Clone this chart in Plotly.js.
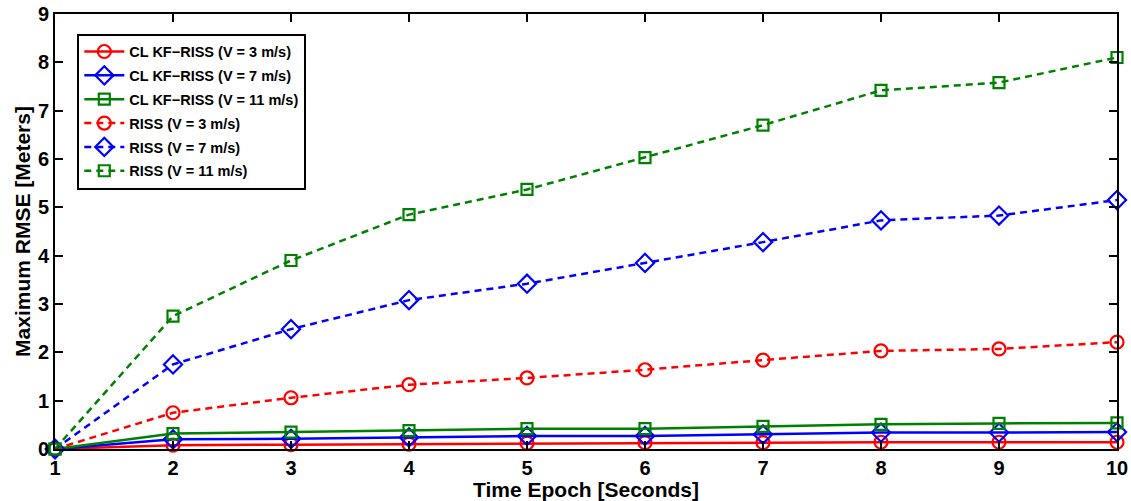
<!DOCTYPE html>
<html>
<head>
<meta charset="utf-8">
<script src="https://cdn.plot.ly/plotly-3.0.1.min.js"></script>
<style>html,body{margin:0;padding:0;background:#fff;}#chart{width:1131px;height:501px;}</style>
</head>
<body>
<div id="chart"></div>
<script>
const epochs = [1, 2, 3, 4, 5, 6, 7, 8, 9, 10];
const clV3  = [0, 0.08, 0.09, 0.10, 0.12, 0.13, 0.13, 0.14, 0.14, 0.14];
const clV7  = [0, 0.20, 0.21, 0.24, 0.27, 0.27, 0.30, 0.34, 0.34, 0.35];
const clV11 = [0, 0.32, 0.35, 0.38, 0.42, 0.42, 0.47, 0.51, 0.53, 0.54];
const rissV3  = [0, 0.75, 1.06, 1.33, 1.47, 1.64, 1.84, 2.03, 2.07, 2.21];
const rissV7  = [0, 1.75, 2.48, 3.08, 3.42, 3.85, 4.28, 4.73, 4.83, 5.15];
const rissV11 = [0, 2.75, 3.90, 4.85, 5.37, 6.03, 6.70, 7.42, 7.58, 8.10];
const yTicks = [0, 1, 2, 3, 4, 5, 6, 7, 8, 9];
const names = [
  'CL KF\u2212RISS (V = 3 m/s)',
  'CL KF\u2212RISS (V = 7 m/s)',
  'CL KF\u2212RISS (V = 11 m/s)',
  'RISS (V = 3 m/s)',
  'RISS (V = 7 m/s)',
  'RISS (V = 11 m/s)'
];
const series = [clV3, clV7, clV11, rissV3, rissV7, rissV11];
const colors = ['#ff0000', '#0000ff', '#008000', '#ff0000', '#0000ff', '#008000'];
const symbols = ['circle-open', 'diamond-open', 'square-open', 'circle-open', 'diamond-open', 'square-open'];
const sizes = [13, 14, 11, 13, 14, 11];

const traces = series.map((ys, i) => ({
  x: epochs,
  y: ys,
  name: '<b>' + names[i] + '</b>',
  legendgroup: 'g' + i,
  type: 'scatter',
  mode: 'lines+markers',
  cliponaxis: false,
  line: {color: colors[i], width: 2.5, dash: i < 3 ? 'solid' : '7px,5px'},
  marker: {symbol: symbols[i], size: sizes[i], color: colors[i], line: {color: colors[i], width: 2.2}}
}));

const FAM = 'Liberation Sans, Arial, sans-serif';
const tickFont = {family: FAM, size: 20, color: '#000', weight: 700};
const axisCommon = {
  ticks: 'inside',
  ticklen: 8,
  tickwidth: 2,
  tickcolor: '#000',
  showline: true,
  linecolor: '#000',
  linewidth: 2,
  mirror: 'allticks',
  showgrid: false,
  zeroline: false,
  tickfont: tickFont
};
const layout = {
  width: 1131,
  height: 501,
  margin: {l: 55, r: 14, t: 14, b: 52},
  paper_bgcolor: '#fff',
  plot_bgcolor: '#fff',
  showlegend: true,
  font: {family: FAM, color: '#000'},
  xaxis: Object.assign({}, axisCommon, {
    range: [1, 10],
    tickvals: epochs,
    ticktext: epochs.map(v => '<b>' + v + '</b>'),
    title: {text: '<b>Time Epoch [Seconds]</b>', font: {family: FAM, size: 21, color: '#000', weight: 700}, standoff: 0}
  }),
  yaxis: Object.assign({}, axisCommon, {
    range: [0, 9],
    tickvals: yTicks,
    ticktext: yTicks.map(v => '<b>' + v + '</b>'),
    title: {text: '<b>Maximum RMSE [Meters]</b>', font: {family: FAM, size: 21, color: '#000', weight: 700}, standoff: 2}
  }),
  legend: {
    x: 0.021, y: 0.955,
    xanchor: 'left', yanchor: 'top',
    bgcolor: '#fff',
    bordercolor: '#000',
    borderwidth: 2,
    traceorder: 'grouped',
    tracegroupgap: 2,
    itemwidth: 40,
    font: {family: FAM, size: 14.5, color: '#000', weight: 700}
  }
};
Plotly.newPlot('chart', traces, layout, {displayModeBar: false, staticPlot: true});
</script>
</body>
</html>
